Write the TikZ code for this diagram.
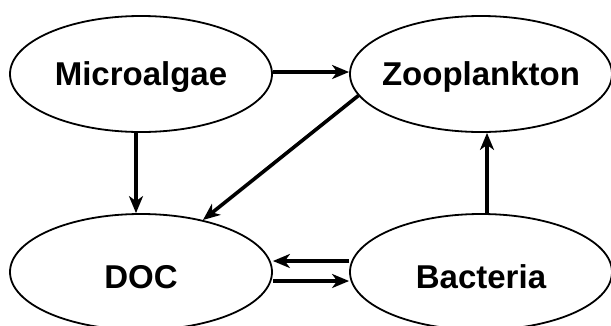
\documentclass[tikz,border=0pt]{standalone}
\usepackage{fontspec}
\setmainfont{Liberation Sans}
\usetikzlibrary{arrows.meta,shapes.geometric}
\newcommand{\nobox}[1]{\makebox[0pt]{#1}}
\begin{document}
\begin{tikzpicture}[x=1pt,y=-1pt,
  blob/.style={draw,ellipse,line width=1.8pt,minimum width=262pt,minimum height=116pt,inner sep=0pt,
    font=\fontsize{33}{40}\selectfont\bfseries,text depth=0pt},
  toprow/.style={text height=22pt},
  botrow/.style={text height=32pt},
  arr/.style={line width=3.6pt,-{Stealth[length=17pt,width=14pt,inset=5pt]}}]
\useasboundingbox (0,0) rectangle (611,325);
\clip (0,0) rectangle (611,325);
\node[blob,toprow] (m) at (141,74) {\nobox{Microalgae}};
\node[blob,toprow] (z) at (481,74) {\nobox{Zooplankton}};
\node[blob,botrow] (d) at (141,272) {\nobox{DOC}};
\node[blob,botrow] (b) at (481,272) {\nobox{Bacteria}};
\draw[arr] ([yshift=2pt]m.east) -- ([yshift=2pt]z.west);
\draw[arr] ([xshift=-5pt]m.south) -- ([xshift=-5pt]d.north);
\draw[arr] (z.190) -- (d.40);
\draw[arr] ([xshift=6pt]b.north) -- ([xshift=6pt]z.south);
\draw[arr] ([yshift=11pt]b.west) -- ([yshift=11pt]d.east);
\draw[arr] ([yshift=-9pt]d.east) -- ([yshift=-9pt]b.west);
\end{tikzpicture}
\end{document}
